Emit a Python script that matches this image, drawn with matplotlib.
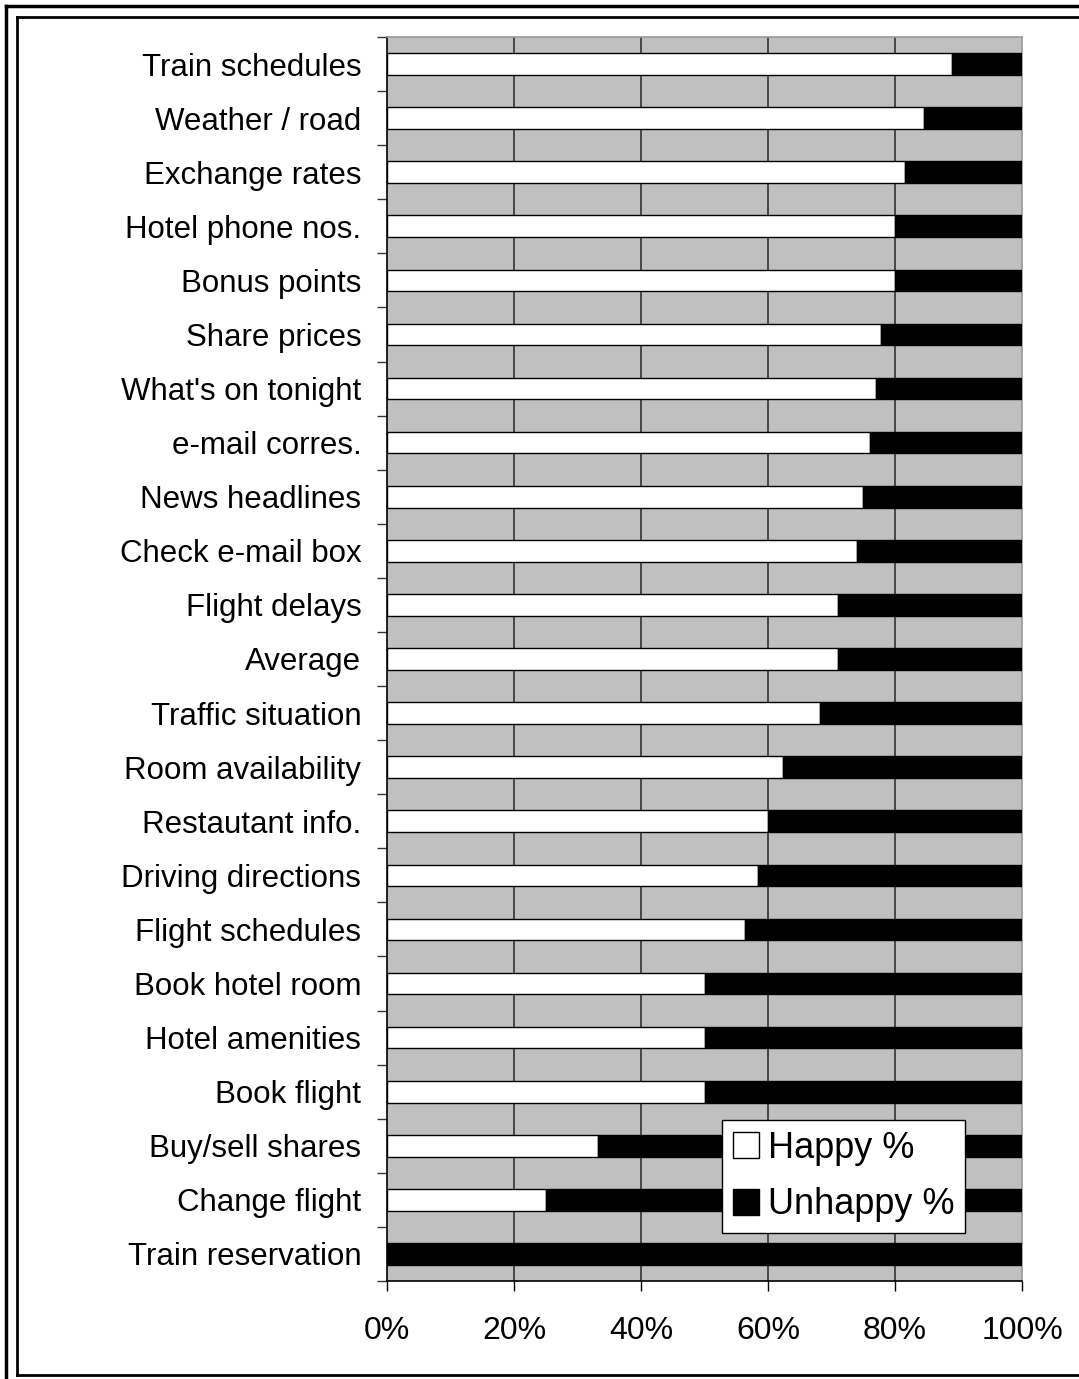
import matplotlib.pyplot as plt
from matplotlib.lines import Line2D
from matplotlib.patches import Patch

plt.rcParams['font.family'] = ['Liberation Sans', 'DejaVu Sans']

# Services, listed top to bottom
services = ["Train schedules", "Weather / road", "Exchange rates", "Hotel phone nos.",
            "Bonus points", "Share prices", "What's on tonight", "e-mail corres.",
            "News headlines", "Check e-mail box", "Flight delays", "Average",
            "Traffic situation", "Room availability", "Restautant info.",
            "Driving directions", "Flight schedules", "Book hotel room",
            "Hotel amenities", "Book flight", "Buy/sell shares", "Change flight",
            "Train reservation"]
happy = [88.9, 84.6, 81.5, 80.0, 80.0, 77.8, 77.0, 76.1, 75.0, 74.0, 71.0, 71.0,
         68.2, 62.3, 60.0, 58.4, 56.3, 50.0, 50.0, 50.0, 33.3, 25.0, 0.0]
unhappy = [11.1, 15.4, 18.5, 20.0, 20.0, 22.2, 23.0, 23.9, 25.0, 26.0, 29.0, 29.0,
           31.8, 37.7, 40.0, 41.6, 43.7, 50.0, 50.0, 50.0, 66.7, 75.0, 100.0]
x_ticks = [0, 20, 40, 60, 80, 100]

W, H = 1079, 1379
fig = plt.figure(figsize=(W / 100, H / 100), dpi=100)
ax = fig.add_axes([387 / W, 1 - 1281 / H, (1022 - 387) / W, (1281 - 37) / H])
ax.set_facecolor('#c0c0c0')

pos = list(range(len(services)))
ax.barh(pos, happy, height=0.4, color='white', edgecolor='black', linewidth=1, zorder=3)
ax.barh(pos, unhappy, left=happy, height=0.4, color='black', edgecolor='black',
        linewidth=1, zorder=3)

ax.set_xlim(0, 100)
ax.set_ylim(len(services) - 0.5, -0.5)

ax.set_xticks(x_ticks)
ax.set_xticklabels([f"{t}%" for t in x_ticks], fontsize=23)
ax.tick_params(axis='x', length=7.2, width=1, pad=18, color='black')
for t in x_ticks[1:-1]:
    ax.axvline(t, color='#333333', linewidth=1.2, zorder=1)

ax.set_yticks(pos)
ax.set_yticklabels(services, fontsize=22.5)
ax.tick_params(axis='y', which='major', length=0, pad=18.5)
ax.set_yticks([p - 0.5 for p in pos] + [len(services) - 0.5], minor=True)
ax.tick_params(axis='y', which='minor', length=7.2, width=1, color='#333333')

ax.spines['left'].set_color('black')
ax.spines['bottom'].set_color('black')
ax.spines['top'].set_color('#9a9a9a')
ax.spines['right'].set_color('#9a9a9a')
for s in ax.spines.values():
    s.set_linewidth(1.2)

handles = [Patch(facecolor='white', edgecolor='black', linewidth=1),
           Patch(facecolor='black', edgecolor='black', linewidth=1)]
leg = fig.legend(handles, ['Happy %', 'Unhappy %'], loc='upper left',
                 bbox_to_anchor=(722 / W, 1 - 1120 / H), bbox_transform=fig.transFigure,
                 fontsize=26, fancybox=False, framealpha=1, edgecolor='black',
                 handlelength=0.72, handleheight=0.72, handletextpad=0.25,
                 labelspacing=0.6, borderpad=0.3, borderaxespad=0)
leg.get_frame().set_linewidth(1)
leg.set_zorder(5)

# double frame around the chart
fig.add_artist(Line2D([6 / W, 6 / W], [0, 1 - 6 / H], color='black', lw=2.5))
fig.add_artist(Line2D([6 / W, 1], [1 - 6 / H, 1 - 6 / H], color='black', lw=2.5))
fig.add_artist(Line2D([17 / W, 17 / W], [1 - 1375 / H, 1 - 17 / H], color='black', lw=2))
fig.add_artist(Line2D([17 / W, 1], [1 - 17 / H, 1 - 17 / H], color='black', lw=2))
fig.add_artist(Line2D([17 / W, 1], [1 - 1375 / H, 1 - 1375 / H], color='black', lw=2))

fig.savefig('out.png', dpi=100)
